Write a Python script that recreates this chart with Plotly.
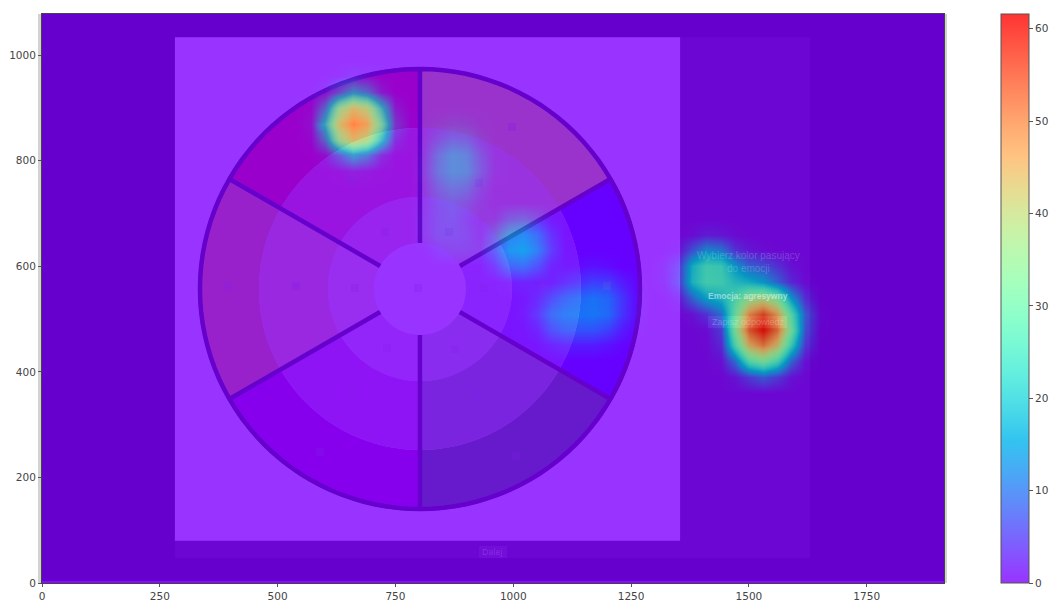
import math
import numpy as np
import plotly.graph_objects as go

# ---- axis ticks
x_ticks = [0, 250, 500, 750, 1000, 1250, 1500, 1750]
y_ticks = [0, 200, 400, 600, 800, 1000]
bar_ticks = [0, 10, 20, 30, 40, 50, 60]
z_min, z_max = 0, 61.6

# ---- heat values: {row y: (first column x, values every 30 units)}
spot_wheel_top = {
    960: (630, [0.3, 1.2, 0.8, 0.2]),
    930: (600, [1.2, 7, 14, 10, 2.5]),
    900: (570, [0.6, 10, 31, 40.5, 36, 19, 2.5]),
    870: (570, [1.5, 18, 40, 48, 44, 27, 5, 0.4]),
    840: (570, [0.6, 10, 31, 40.5, 36, 19, 2.5]),
    810: (600, [1.2, 7, 14, 10, 2.5]),
    780: (630, [0.3, 1.2, 0.8, 0.2]),
}
spot_wheel_mid = {
    870: (840, [0.8, 1.5, 1.2, 0.2]),
    840: (810, [0.5, 3, 5, 4.5, 1.5]),
    810: (810, [1, 6, 9, 8, 3.5, 0.3]),
    780: (810, [1.5, 6.5, 9, 8.5, 4, 0.5]),
    750: (810, [0.8, 4.5, 6.5, 5.5, 2]),
    720: (810, [0.8, 3, 4, 3, 1]),
    690: (810, [1.2, 3, 3.5, 2, 0.5, 0.8, 4, 5, 3, 0.5]),
    660: (810, [1.2, 3, 3, 2.5, 0.8, 4.5, 11, 12.5, 9, 3]),
    630: (840, [1.5, 2, 2, 1.5, 6, 13.5, 15, 11, 4, 0.3]),
    600: (960, [2.5, 8, 9, 6, 1.5, 0.7, 1, 1.5, 1]),
    570: (990, [0.7, 1.5, 1, 1.2, 3, 4.5, 6, 5.5, 2.5, 0.5]),
    540: (1020, [0.4, 2, 5.5, 8.5, 10, 11.5, 10, 5, 1]),
    510: (1020, [0.6, 3.5, 9, 11, 11.5, 12, 10.5, 5, 1]),
    480: (1020, [0.2, 1.5, 6, 8, 8, 8, 6, 2.5, 0.3]),
    450: (1050, [0.2, 1.5, 2.5, 2.5, 2.5, 1.5, 0.5]),
}
spot_right = {
    660: (1380, [0.6, 2, 1.5, 0.4]),
    630: (1350, [0.5, 7, 13, 11, 4, 1.5, 0.5]),
    600: (1320, [0.8, 3.5, 18, 24, 23, 15, 9, 7, 4, 1]),
    570: (1320, [0.8, 4, 19, 24.5, 24, 20, 18, 15, 9, 3, 0.3]),
    540: (1350, [1, 9, 16, 19, 26, 35, 38, 32, 15, 3.5]),
    510: (1380, [1, 4, 10, 30, 49, 56, 47, 27, 8, 0.5]),
    480: (1410, [0.4, 5, 33, 54, 61, 52, 31, 7, 0.3]),
    450: (1410, [0.2, 3, 26, 45, 51, 43, 23, 4.5]),
    420: (1440, [0.8, 10, 27, 32, 25, 9, 0.8]),
    390: (1470, [1.2, 5, 8, 5, 1]),
}

grid_x = list(range(-30, 1951, 30))
grid_y = list(range(-30, 1111, 30))
z = np.zeros((len(grid_y), len(grid_x)))
for spot in (spot_wheel_top, spot_wheel_mid, spot_right):
    for row, (first, vals) in spot.items():
        r = grid_y.index(row)
        c = grid_x.index(first)
        for k, v in enumerate(vals):
            z[r, c + k] = v

# ---- the dimmed screenshot under the heat layer
sector_colors = ["#ffff00", "#0000ff", "#008000", "#a000aa", "#ffa500", "#ff0000"]  # clockwise from top
ring_radii_px = [222, 161, 92, 46]
ring_alpha = [1.0, 0.6, 0.3]
dot_px = [(320,127),(352,181),(385,232),(512,127),(479,183),(449,232),(228,286),(296,286),(355,288),
          (418,288),(483,288),(543,286),(607,286),(387,348),(352,396),(320,452),(455,349),(479,396),(516,456)]

PX, PY = 902 / 1914, 569 / 1078
cx, cy = 802, 557


def dx(px):
    return (px - 42) / PX


def dy(py):
    return (583 - py) / PY


def mix(hexc, a):
    rgb = [int(hexc[i:i + 2], 16) for i in (1, 3, 5)]
    m = [round(v * a + 255 * (1 - a)) for v in rgb]
    return f"rgb({m[0]},{m[1]},{m[2]})"


def pt(r, deg):
    t = math.radians(deg)
    return cx + r * math.sin(t) / PX, cy + r * math.cos(t) / PY


def sector(r0, r1, a0, a1):
    degs = list(np.linspace(a0, a1, 25))
    p = [pt(r1, d) for d in degs] + [pt(r0, d) for d in degs[::-1]]
    return "M " + " L ".join(f"{a:.1f} {b:.1f}" for a, b in p) + " Z"


def rect(x0, x1, y0, y1, color):
    return dict(type="rect", layer="below", x0=x0, x1=x1, y0=y0, y1=y1, fillcolor=color, line_width=0)


shapes = [
    rect(0, 1914, 4, 1078, "#000000"),
    rect(282, 1630, 47, 1034, "#1e1e1e"),
    rect(282, 1354, 80, 1034, "#ffffff"),
    rect(dx(708), dx(787), dy(328), dy(316), "#555555"),
    rect(dx(479), dx(507), dy(558), dy(546), "#444444"),
]
for i, col in enumerate(sector_colors):
    a0 = i * 60
    for j in range(3):
        shapes.append(dict(type="path", layer="below", path=sector(ring_radii_px[j + 1], ring_radii_px[j], a0, a0 + 60),
                           fillcolor=mix(col, ring_alpha[j]), line=dict(width=0)))
for px, py in dot_px:
    shapes.append(rect(dx(px - 4), dx(px + 4), dy(py + 4), dy(py - 4), "rgba(140,140,140,0.25)"))
for i in range(6):
    a, b = pt(46, i * 60), pt(220, i * 60)
    shapes.append(dict(type="line", layer="below", x0=a[0], y0=a[1], x1=b[0], y1=b[1], line=dict(color="#000000", width=4.5)))
ring = [pt(220, d) for d in range(0, 360, 3)]
shapes.append(dict(type="path", layer="below", path="M " + " L ".join(f"{a:.1f} {b:.1f}" for a, b in ring) + " Z",
                   line=dict(color="#000000", width=4.5)))

# gray slivers beside the plot
shapes += [
    dict(type="rect", xref="paper", yref="paper", x0=-4 / 902, x1=0, y0=0, y1=1, fillcolor="#d2d2d2", line_width=0, layer="below"),
    dict(type="rect", xref="paper", yref="paper", x0=1, x1=1 + 3 / 902, y0=0, y1=1, fillcolor="#d2d2d2", line_width=0, layer="below"),
]


def rainbow(t):
    return (abs(2 * t - 0.5), math.sin(math.pi * t), math.cos(math.pi * t / 2))


scale = []
for k in range(33):
    t = k / 32
    r, g, b = rainbow(t)
    scale.append([t, f"rgba({round(r * 255)},{round(g * 255)},{round(b * 255)},0.8)"])

fig = go.Figure(go.Heatmap(
    x=grid_x, y=grid_y, z=z.tolist(), zmin=z_min, zmax=z_max, zsmooth="best", colorscale=scale, hoverinfo="skip",
    colorbar=dict(
        x=(1001 - 42) / 902, xanchor="left", y=0, yanchor="bottom", len=1, lenmode="fraction", thickness=28,
        thicknessmode="pixels", xpad=0, ypad=0, outlinecolor="#555555", outlinewidth=1, tickvals=bar_ticks,
        ticks="outside", ticklen=4, tickcolor="#555555", tickfont=dict(family="DejaVu Sans", size=10.5, color="#444444"),
    ),
))

notes = [
    ("Wybierz kolor pasujący", 748, 255, 10, 0.2, False),
    ("do emocji", 748, 268, 10, 0.2, False),
    ("Emocja: agresywny", 748, 296, 8.5, 0.5, True),
    ("Zapisz odpowiedź", 748, 322, 9, 0.25, False),
    ("Dalej", 492, 552, 9, 0.15, False),
]
for text, px, py, size, a, bold in notes:
    fig.add_annotation(x=dx(px), y=dy(py), text=f"<b>{text}</b>" if bold else text, showarrow=False,
                       font=dict(family="Liberation Sans", size=size, color=f"rgba(255,255,255,{a})"))

axis = dict(showgrid=False, zeroline=False, ticks="outside", ticklen=3, tickcolor="#555555", mirror=True, showline=True,
            linecolor="#444444", linewidth=1, tickfont=dict(family="DejaVu Sans", size=10.5, color="#444444"))
fig.update_layout(
    width=1049, height=601, margin=dict(l=42, r=105, t=14, b=18, autoexpand=False), paper_bgcolor="white", plot_bgcolor="#9933ff",
    shapes=shapes,
    xaxis=dict(range=[0, 1914], tickvals=x_ticks, **axis),
    yaxis=dict(range=[0, 1078], tickvals=y_ticks, **axis),
)
fig.write_html("out.html", config={"displayModeBar": False},
               post_script="document.body.style.margin='0';document.documentElement.style.overflow='hidden';")
